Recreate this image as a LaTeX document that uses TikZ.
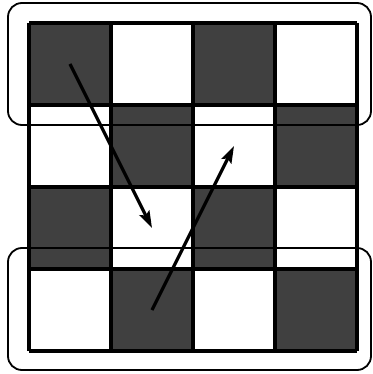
\documentclass[tikz,border=0pt]{standalone}
\usepackage{tikz}
\usetikzlibrary{arrows.meta}
\definecolor{darkcell}{RGB}{64,64,64}

\begin{document}
\begin{tikzpicture}[x=1pt, y=-1pt]
  \useasboundingbox (0,0) rectangle (372,374);
  % dark squares of the 4x4 board
  \foreach \r/\c in {0/0, 0/2, 1/1, 1/3, 2/0, 2/2, 3/1, 3/3}
    \fill[darkcell] (29+82*\c, 23+82*\r) rectangle +(82,82);

  % cell centres
  \foreach \r in {1,...,4}
    \foreach \c in {1,...,4}
      \coordinate (c\r\c) at (82*\c-12, 82*\r-18);

  % grid lines
  \foreach \i in {0,...,4} {
    \draw[line width=3.6pt] (29+82*\i, 23) -- (29+82*\i, 351);
    \draw[line width=3.6pt] (29, 23+82*\i) -- (357, 23+82*\i);
  }

  % first and last row
  \draw[line width=1.8pt, rounded corners=14pt] (8,3) rectangle (371,125);
  \draw[line width=1.8pt, rounded corners=14pt] (8,248) rectangle (371,370);

  % moves
  \draw[line width=3.2pt, -{Stealth[length=17pt, width=11pt, inset=3pt]}] (c11) -- (c32);
  \draw[line width=3.2pt, -{Stealth[length=17pt, width=11pt, inset=3pt]}] (c42) -- (c23);
\end{tikzpicture}
\end{document}
